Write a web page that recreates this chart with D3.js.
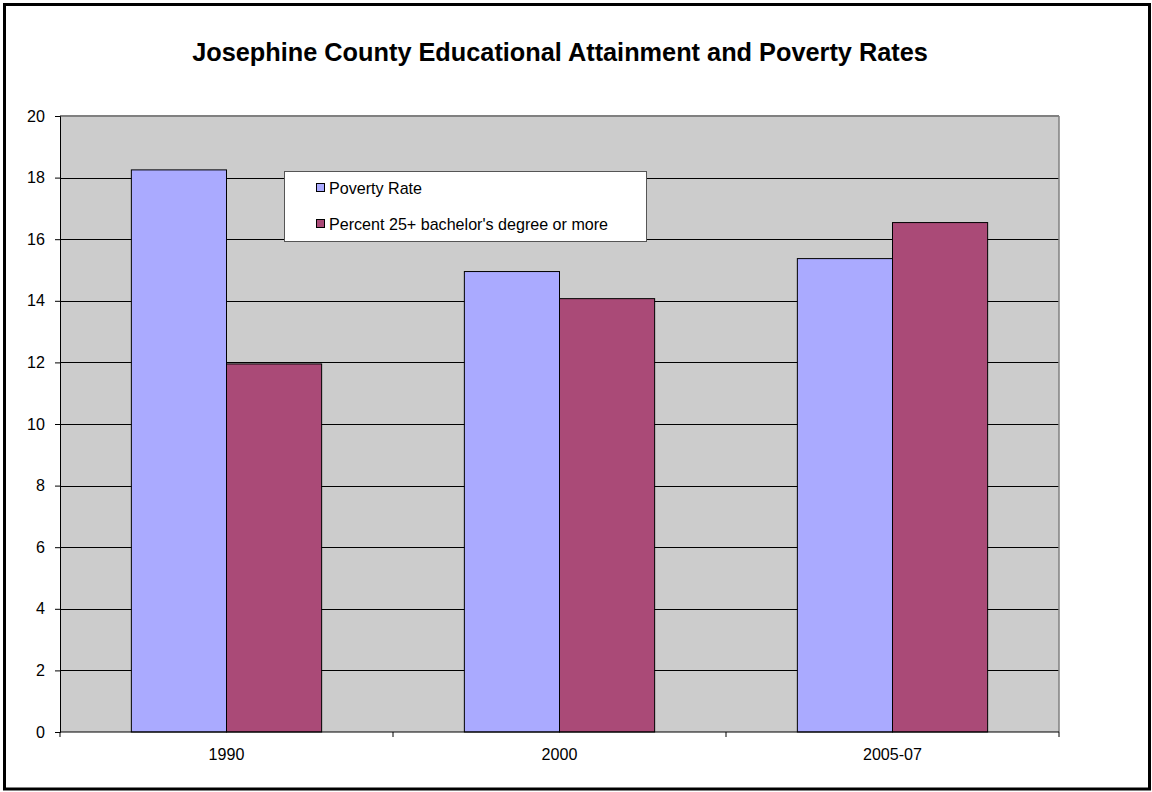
<!DOCTYPE html>
<html>
<head>
<meta charset="utf-8">
<script src="https://cdn.jsdelivr.net/npm/d3@7"></script>
<style>
  html, body { margin: 0; padding: 0; background: #fff; }
  svg { display: block; font-family: Arial, "Liberation Sans", sans-serif; }
</style>
</head>
<body>
<svg id="chart" width="1152" height="792"></svg>
<script>
// Chart data
const categories = ["1990", "2000", "2005-07"];
const seriesNames = ["Poverty Rate", "Percent 25+ bachelor's degree or more"];
const povertyRate = [18.25, 14.95, 15.37];
const bachelorsPct = [11.95, 14.07, 16.54];
const yTicks = [0, 2, 4, 6, 8, 10, 12, 14, 16, 18, 20];
const titleText = "Josephine County Educational Attainment and Poverty Rates";

const colors = ["#AAAAFF", "#AA4A77"];
const seriesValues = [povertyRate, bachelorsPct];
const labelSize = 16.1;

const svg = d3.select("#chart");
const W = 1152, H = 792;
const plot = { left: 60, right: 1059, top: 116, bottom: 732 };

// outer frame
svg.append("rect")
  .attr("x", 4.5).attr("y", 4.5)
  .attr("width", W - 7).attr("height", H - 7.5)
  .attr("fill", "#fff").attr("stroke", "#000").attr("stroke-width", 3);

// title
svg.append("text")
  .attr("x", (plot.left + plot.right) / 2 + 0.5)
  .attr("y", 61)
  .attr("text-anchor", "middle")
  .attr("font-weight", "bold")
  .attr("font-size", 25.3)
  .attr("fill", "#000")
  .text(titleText);

const x = d3.scaleBand().domain(categories).range([plot.left, plot.right]).padding(0);
const y = d3.scaleLinear().domain([0, 20]).range([plot.bottom, plot.top]);

// plot background
svg.append("rect")
  .attr("x", plot.left).attr("y", plot.top)
  .attr("width", plot.right - plot.left).attr("height", plot.bottom - plot.top)
  .attr("fill", "#CCCCCC");

// gridlines
svg.append("g").selectAll("line")
  .data(yTicks.filter(d => d > 0 && d < 20))
  .join("line")
  .attr("x1", plot.left).attr("x2", plot.right)
  .attr("y1", d => Math.round(y(d)) + 0.5).attr("y2", d => Math.round(y(d)) + 0.5)
  .attr("stroke", "#000").attr("stroke-width", 1);

// top and right edges of the plot area
svg.append("line")
  .attr("x1", plot.left).attr("x2", plot.right)
  .attr("y1", y(20)).attr("y2", y(20))
  .attr("stroke", "#808080").attr("stroke-width", 2);
svg.append("line")
  .attr("x1", plot.right).attr("x2", plot.right)
  .attr("y1", plot.top).attr("y2", plot.bottom)
  .attr("stroke", "#808080").attr("stroke-width", 1.5);

// bars: gap width 150% of a bar
const barW = x.bandwidth() / 3.5;
const groups = svg.append("g").selectAll("g")
  .data(categories)
  .join("g")
  .attr("transform", d => `translate(${x(d) + barW * 0.75},0)`);

groups.selectAll("rect")
  .data((c, i) => seriesValues.map((vals, s) => ({ s, v: vals[i] })))
  .join("rect")
  .attr("x", d => d.s * barW)
  .attr("y", d => y(d.v))
  .attr("width", barW)
  .attr("height", d => y(0) - y(d.v))
  .attr("fill", d => colors[d.s])
  .attr("stroke", "#000").attr("stroke-width", 1);

// y axis
const yAxis = d3.axisLeft(y).tickValues(yTicks).tickSize(5).tickPadding(10).tickFormat(d3.format("d"));
const gy = svg.append("g").attr("transform", `translate(${plot.left},0)`).call(yAxis);
gy.select(".domain").attr("stroke", "#000");
gy.selectAll(".tick line").attr("stroke", "#000");
gy.selectAll(".tick text").attr("font-size", labelSize).attr("fill", "#000")
  .attr("font-family", "Arial, 'Liberation Sans', sans-serif");

// x axis: category labels centered, ticks at category boundaries
const gx = svg.append("g").attr("transform", `translate(0,${plot.bottom})`);
gx.append("line")
  .attr("x1", plot.left).attr("x2", plot.right)
  .attr("stroke", "#000");
const boundaries = [x(categories[0])].concat(categories.map(c => x(c) + x.bandwidth()));
gx.selectAll("line.tk")
  .data(boundaries)
  .join("line").attr("class", "tk")
  .attr("x1", d => d).attr("x2", d => d)
  .attr("y1", 0).attr("y2", 5)
  .attr("stroke", "#000");
gx.selectAll("text")
  .data(categories)
  .join("text")
  .attr("x", d => x(d) + x.bandwidth() / 2)
  .attr("y", 28)
  .attr("text-anchor", "middle")
  .attr("font-size", labelSize)
  .attr("fill", "#000")
  .text(d => d);

// legend
const legend = svg.append("g").attr("transform", "translate(284,171)");
legend.append("rect")
  .attr("x", 0.5).attr("y", 0.5)
  .attr("width", 362).attr("height", 70)
  .attr("fill", "#fff").attr("stroke", "#555").attr("stroke-width", 1);
const items = legend.selectAll("g.item")
  .data(seriesNames)
  .join("g").attr("class", "item")
  .attr("transform", (d, i) => `translate(32,${17 + i * 36})`);
items.append("rect")
  .attr("x", 0.5).attr("y", -4.5)
  .attr("width", 8).attr("height", 8)
  .attr("fill", (d, i) => colors[i])
  .attr("stroke", "#000").attr("stroke-width", 1);
items.append("text")
  .attr("x", 13)
  .attr("y", 0)
  .attr("dy", "0.35em")
  .attr("font-size", labelSize)
  .attr("fill", "#000")
  .text(d => d);
</script>
</body>
</html>
